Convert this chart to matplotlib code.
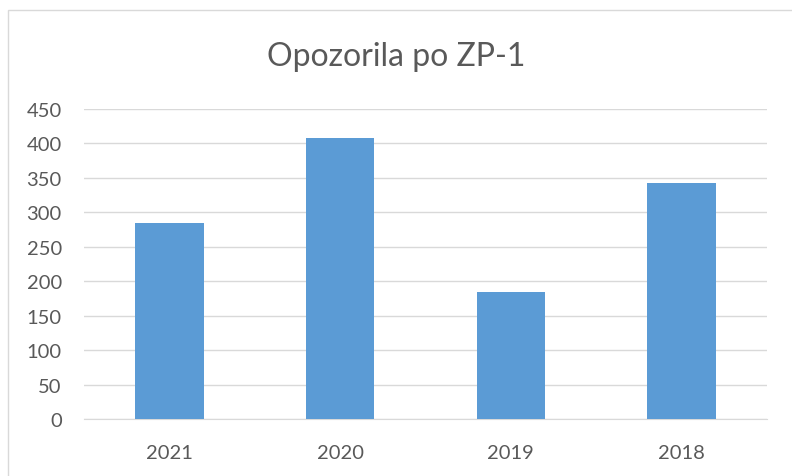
import matplotlib.pyplot as plt
from matplotlib.patches import Rectangle
import numpy as np

years = ["2021", "2020", "2019", "2018"]
counts = [285, 408, 184, 343]
y_ticks = [0, 50, 100, 150, 200, 250, 300, 350, 400, 450]

plt.rc("font", family="Lato")

fig = plt.figure(figsize=(7.92, 4.77), dpi=100)
ax = fig.add_axes([84 / 792, 1 - 420.3 / 477, 683 / 792, 310.3 / 477])

x = np.arange(len(years))
ax.bar(x, counts, width=0.4, color="#5B9BD5", zorder=3)

ax.set_xlim(-0.5, len(years) - 0.5)
ax.set_ylim(0, 450)
ax.set_yticks(y_ticks)
ax.set_xticks(x)
ax.set_xticklabels(years)
ax.tick_params(axis="both", length=0, labelsize=14.5, colors="#595959")
ax.tick_params(axis="y", pad=16)
ax.tick_params(axis="x", pad=18)

ax.grid(axis="y", color="#d9d9d9", linewidth=1, zorder=0)
for s in ["top", "right", "left"]:
    ax.spines[s].set_visible(False)
ax.spines["bottom"].set_color("#d9d9d9")

fig.text(0.5, 1 - 57 / 477, "Opozorila po ZP-1", ha="center", va="center",
         fontsize=23, color="#595959")

# outer chart frame (extends beyond the image on the right and bottom)
fig.patches.append(Rectangle((8 / 792, -0.1), 1.2, 1 - 11 / 477 + 0.1,
                             transform=fig.transFigure, fill=False,
                             edgecolor="#d9d9d9", linewidth=1))

fig.savefig("out.png", dpi=100)
